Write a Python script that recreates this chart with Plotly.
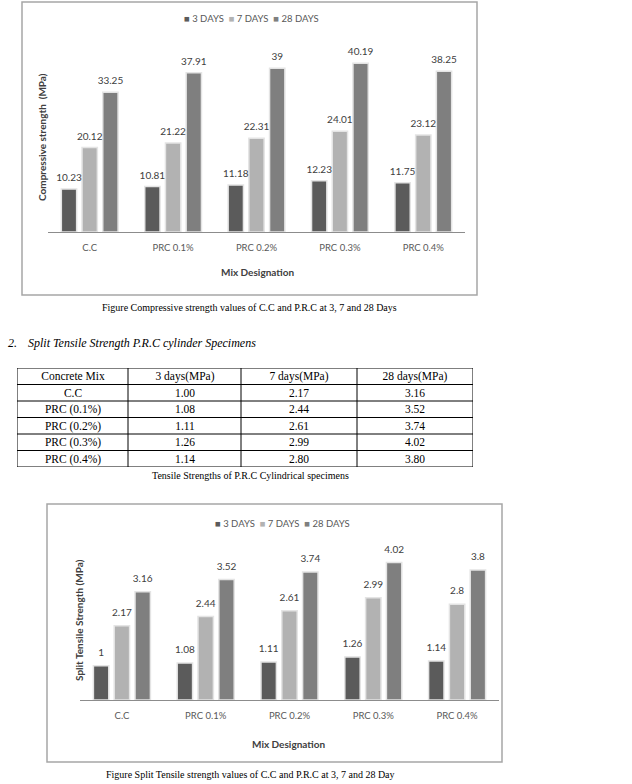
import plotly.graph_objects as go

W, H = 632, 784

categories = ["C.C", "PRC 0.1%", "PRC 0.2%", "PRC 0.3%", "PRC 0.4%"]
series_names = ["3 DAYS", "7 DAYS", "28 DAYS"]
series_colors = ["#5b5b5b", "#b2b2b2", "#7f7f7f"]

comp_3 = [10.23, 10.81, 11.18, 12.23, 11.75]
comp_7 = [20.12, 21.22, 22.31, 24.01, 23.12]
comp_28 = [33.25, 37.91, 39, 40.19, 38.25]

tens_3 = [1, 1.08, 1.11, 1.26, 1.14]
tens_7 = [2.17, 2.44, 2.61, 2.99, 2.8]
tens_28 = [3.16, 3.52, 3.74, 4.02, 3.8]

table_header = ["Concrete Mix", "3 days(MPa)", "7 days(MPa)", "28 days(MPa)"]
table_mix = ["C.C", "PRC (0.1%)", "PRC (0.2%)", "PRC (0.3%)", "PRC (0.4%)"]
table_3 = ["1.00", "1.08", "1.11", "1.26", "1.14"]
table_7 = ["2.17", "2.44", "2.61", "2.99", "2.80"]
table_28 = ["3.16", "3.52", "3.74", "4.02", "3.80"]
table_col_widths = [111, 113, 116, 116]

SANS = "Lato, Open Sans, sans-serif"
SERIF = "Liberation Serif, Times New Roman, serif"
LABEL = "#404040"


def px(x):
    return x / W


def py(y):
    return 1 - y / H


fig = go.Figure()


def add_bar_chart(series, xa, ya, label_marker):
    for k, (vals, name, col) in enumerate(zip(series, series_names, series_colors)):
        fig.add_trace(go.Bar(
            x=categories, y=vals, name=name, xaxis=xa, yaxis=ya,
            offsetgroup=str(k),
            marker=dict(color=col, line=dict(color="#e4e4e4", width=1.5)),
            showlegend=False, hoverinfo="skip",
        ))
    for k, (vals, name) in enumerate(zip(series, series_names)):
        fig.add_trace(go.Scatter(
            x=categories, y=vals, name=name, xaxis=xa, yaxis=ya,
            offsetgroup=str(k), mode="markers+text",
            marker=dict(size=label_marker, opacity=0),
            text=[f"{v:g}" for v in vals], textposition="top center",
            textfont=dict(family=SANS, size=10, color=LABEL),
            cliponaxis=False, showlegend=False, hoverinfo="skip",
        ))


add_bar_chart([comp_3, comp_7, comp_28], "x", "y", 7)
add_bar_chart([tens_3, tens_7, tens_28], "x2", "y2", 10)

# table drawn as a white heatmap with text, on its own axes
x_edges = [0]
for w_ in table_col_widths:
    x_edges.append(x_edges[-1] + w_)
rows = [table_header] + [list(r) for r in zip(table_mix, table_3, table_7, table_28)]
y_edges = list(range(len(rows) + 1))
fig.add_trace(go.Heatmap(
    x=x_edges, y=y_edges, z=[[0] * len(table_header) for _ in rows],
    text=rows, texttemplate="%{text}",
    textfont=dict(family=SERIF, size=11.5, color="black"),
    colorscale=[[0, "white"], [1, "white"]], showscale=False, hoverinfo="skip",
    xaxis="x3", yaxis="y3",
))

axis_common = dict(
    showline=True, linecolor="#8c8c8c", linewidth=1,
    ticks="outside", ticklen=7, tickcolor="rgba(0,0,0,0)",
    tickfont=dict(family=SANS, size=9.5, color="#595959"),
    showgrid=False, zeroline=False, fixedrange=True,
)
yaxis_common = dict(showticklabels=False, showgrid=False, zeroline=False,
                    showline=False, ticks="", fixedrange=True)

fig.update_layout(
    width=W, height=H,
    margin=dict(l=0, r=0, t=0, b=0),
    paper_bgcolor="white", plot_bgcolor="white",
    barmode="group", bargap=0.255, bargroupgap=0.26,
    scattermode="group", scattergap=0.255,
    showlegend=False,
    xaxis=dict(domain=[px(48), px(465)], anchor="y", **axis_common),
    yaxis=dict(domain=[py(232), py(43)], range=[0, 45], anchor="x", **yaxis_common),
    xaxis2=dict(domain=[px(80), px(499)], anchor="y2", **axis_common),
    yaxis2=dict(domain=[py(700), py(546)], range=[0, 4.5], anchor="x2", **yaxis_common),
    xaxis3=dict(domain=[px(17), px(473)], range=[x_edges[0], x_edges[-1]], anchor="y3",
                visible=False, fixedrange=True),
    yaxis3=dict(domain=[py(467), py(368)], range=[y_edges[-1], y_edges[0]], anchor="x3",
                visible=False, fixedrange=True),
)

shapes = [
    dict(type="rect", xref="paper", yref="paper", x0=px(22), x1=px(477), y0=py(295), y1=py(2),
         line=dict(color="#a6a6a6", width=1.5), layer="below"),
    dict(type="rect", xref="paper", yref="paper", x0=px(47), x1=px(502), y0=py(762), y1=py(504),
         line=dict(color="#a6a6a6", width=1.5), layer="below"),
]
for xe in x_edges:
    shapes.append(dict(type="line", xref="x3", yref="y3", x0=xe, x1=xe,
                       y0=y_edges[0], y1=y_edges[-1], line=dict(color="black", width=1)))
for ye in y_edges:
    shapes.append(dict(type="line", xref="x3", yref="y3", x0=x_edges[0], x1=x_edges[-1],
                       y0=ye, y1=ye, line=dict(color="black", width=1)))
fig.update_layout(shapes=shapes)


def legend_text():
    parts = [f"<span style='color:{c}'>■</span> {n}" for n, c in zip(series_names, series_colors)]
    return "  ".join(parts)


ann = []


def add_text(x, y, text, size, family=SANS, color=LABEL, angle=0, xanchor="center"):
    ann.append(dict(xref="paper", yref="paper", x=px(x), y=py(y), text=text,
                    showarrow=False, xanchor=xanchor, yanchor="middle", textangle=angle,
                    font=dict(family=family, size=size, color=color)))


# chart 1
add_text(251, 18, legend_text(), 9.5, color="#595959")
add_text(42, 137, "<b>Compressive strength  (MPa)</b>", 10, angle=-90)
add_text(257, 272, "<b>Mix Designation</b>", 10)
add_text(249, 308, "Figure Compressive strength values of C.C and P.R.C at 3, 7 and 28 Days",
         10, family=SERIF, color="black")
# heading
add_text(6, 343, "<i>2.</i>", 12, family=SERIF, color="black", xanchor="left")
add_text(26, 343, "<i>Split Tensile Strength P.R.C cylinder Specimens</i>", 12,
         family=SERIF, color="black", xanchor="left")
# table caption
add_text(250, 475, "Tensile Strengths of P.R.C Cylindrical specimens", 10,
         family=SERIF, color="black")
# chart 2
add_text(282, 523, legend_text(), 9.5, color="#595959")
add_text(79, 620, "<b>Split Tensile Strength (MPa)</b>", 10, angle=-90)
add_text(288, 744, "<b>Mix Designation</b>", 10)
add_text(250, 774, "Figure Split Tensile strength values of C.C and P.R.C at 3, 7 and 28 Day",
         10, family=SERIF, color="black")

fig.update_layout(annotations=ann)

fig.write_html(
    "out.html",
    config={"displayModeBar": False},
    post_script="document.body.style.margin='0';document.documentElement.style.overflow='hidden';",
)
